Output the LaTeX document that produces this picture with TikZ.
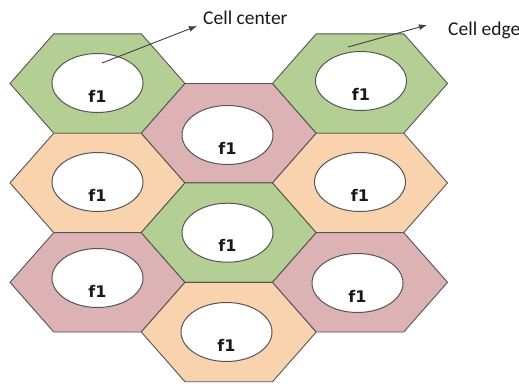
\documentclass[tikz,border=0pt]{standalone}
\usepackage{fontspec}
\setmainfont{Carlito}
\newfontfamily\fone{DejaVu Sans}
\usetikzlibrary{arrows.meta,shapes.geometric}
\definecolor{hgreen}{HTML}{B4CF94}
\definecolor{horange}{HTML}{F9D2AE}
\definecolor{hpink}{HTML}{DCB2B5}
\definecolor{hline}{HTML}{555555}
\tikzset{
  hexcell/.style={draw=hline, line width=0.9pt, line join=round},
  cellhole/.style={draw=hline, fill=white, line width=1pt, ellipse, minimum width=91pt, minimum height=59pt, inner sep=0pt},
  ftext/.style={font=\fone\bfseries\fontsize{16}{16}\selectfont, text=black!90},
  lbl/.style={font=\fontsize{19.5}{20}\selectfont, text=black!90, anchor=west, inner sep=0pt},
  ptr/.style={draw=black!75, line width=0.9pt, -{Latex[length=8pt,width=6pt]}}
}
\newcommand{\hexat}[3]{%
  \fill[#3] (#1-87.5,#2) -- (#1-43.75,#2-49.7) -- (#1+43.75,#2-49.7) -- (#1+87.5,#2) -- (#1+43.75,#2+49.7) -- (#1-43.75,#2+49.7) -- cycle;
  \draw[hexcell] (#1-87.5,#2) -- (#1-43.75,#2-49.7) -- (#1+43.75,#2-49.7) -- (#1+87.5,#2) -- (#1+43.75,#2+49.7) -- (#1-43.75,#2+49.7) -- cycle;}
\begin{document}
\begin{tikzpicture}[x=1pt,y=-1pt]
\useasboundingbox (0,0) rectangle (519,383);
% left column
\hexat{97.5}{83.5}{hgreen}
\hexat{97.5}{182.9}{horange}
\hexat{97.5}{282.3}{hpink}
% middle column
\hexat{228.75}{133.2}{hpink}
\hexat{228.75}{232.6}{hgreen}
\hexat{228.75}{332}{horange}
% right column
\hexat{360}{83.5}{hgreen}
\hexat{360}{182.9}{horange}
\hexat{360}{282.3}{hpink}
% holes
\node[cellhole] (e1) at (97.5,83) {};
\node[cellhole] (e2) at (97.5,182) {};
\node[cellhole] (e3) at (97.5,278) {};
\node[cellhole] (e4) at (227.5,135) {};
\node[cellhole] (e5) at (227.5,232.7) {};
\node[cellhole] (e6) at (226.5,332) {};
\node[cellhole] (e7) at (361,81) {};
\node[cellhole] (e8) at (360,182) {};
\node[cellhole] (e9) at (357.5,283) {};
\foreach \e in {e1,e2,e3,e4,e5,e6,e7,e8,e9}
  \node[ftext] (\e t) at ([yshift=-13pt]\e.center) {f1};
% labels
\node[lbl] (lc) at (203,18) {Cell center};
\node[lbl] (le) at (448,30) {Cell edge};
\coordinate (sc) at (102,63);
\coordinate (se) at (348,47);
\draw[ptr] (sc) -- ([xshift=-6pt,yshift=-8pt]lc.west);
\draw[ptr] (se) -- ([xshift=-21pt,yshift=5pt]le.west);
\end{tikzpicture}
\end{document}
